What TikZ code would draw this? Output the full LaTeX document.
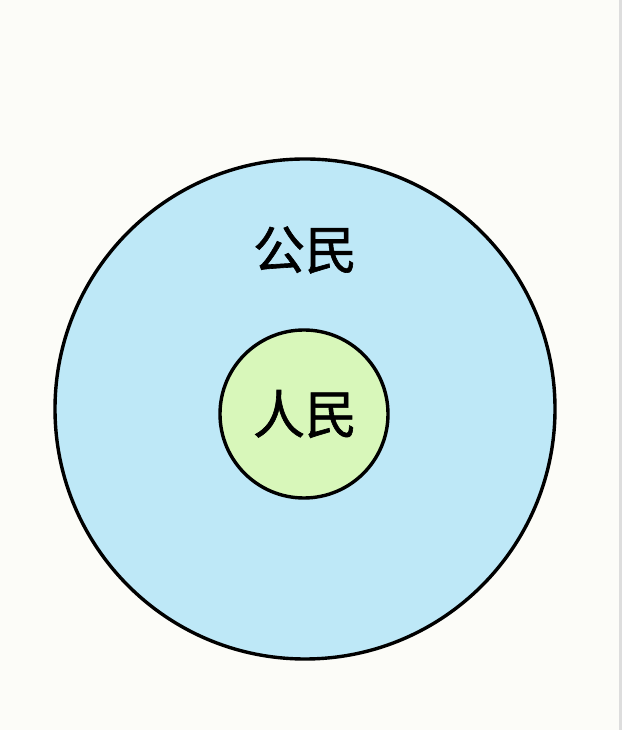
\documentclass[tikz,border=0pt]{standalone}
\usepackage{fontspec}
\newfontfamily\cjk[FakeBold=1.2]{Noto Sans CJK SC}
\definecolor{bgcol}{HTML}{FCFCF8}
\definecolor{outerfill}{HTML}{BEE8F7}
\definecolor{innerfill}{HTML}{D8F7BA}
\definecolor{edgegrey}{HTML}{DDDDDD}
\tikzset{
  setcircle/.style={circle, draw=black, line width=3.4pt, inner sep=0pt},
  setlabel/.style={font=\cjk\fontsize{52}{52}\selectfont, text=black, inner sep=0pt}
}
\begin{document}
\begin{tikzpicture}[x=1pt,y=1pt]
\useasboundingbox (0,0) rectangle (622,730);
\fill[bgcol] (0,0) rectangle (622,730);
\fill[edgegrey] (618.5,0) rectangle (622,730);
\node[setcircle, fill=outerfill, minimum size=500pt] (citizens) at (305,321) {};
\node[setcircle, fill=innerfill, minimum size=168pt] (people) at (304,316) {};
\node[setlabel] (citizenslabel) at (305,480) {公民};
\node[setlabel] (peoplelabel) at (305,316) {人民};
\end{tikzpicture}
\end{document}
